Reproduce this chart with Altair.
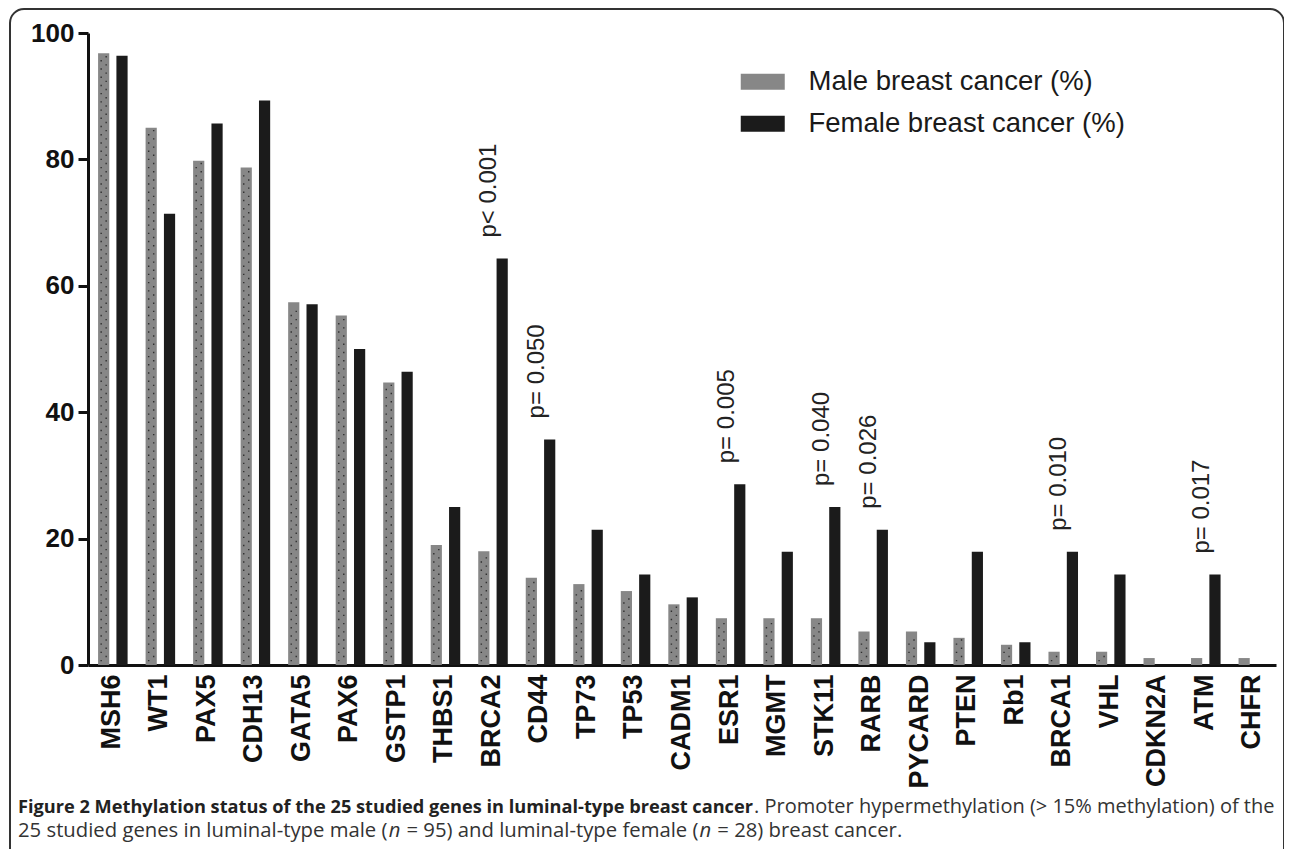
import altair as alt
import pandas as pd

MALE = "Male breast cancer (%)"
FEMALE = "Female breast cancer (%)"

genes = ["MSH6", "WT1", "PAX5", "CDH13", "GATA5", "PAX6", "GSTP1", "THBS1", "BRCA2",
         "CD44", "TP73", "TP53", "CADM1", "ESR1", "MGMT", "STK11", "RARB", "PYCARD",
         "PTEN", "Rb1", "BRCA1", "VHL", "CDKN2A", "ATM", "CHFR"]
male = [96.8, 85.0, 79.8, 78.7, 57.4, 55.3, 44.7, 19.0, 18.0, 13.8, 12.8, 11.7, 9.6,
        7.4, 7.4, 7.4, 5.3, 5.3, 4.3, 3.2, 2.1, 2.1, 1.1, 1.1, 1.1]
female = [96.4, 71.4, 85.7, 89.3, 57.1, 50.0, 46.4, 25.0, 64.3, 35.7, 21.4, 14.3, 10.7,
          28.6, 17.9, 25.0, 21.4, 3.6, 17.9, 3.6, 17.9, 14.3, 0.0, 14.3, 0.0]

p_genes = ["BRCA2", "CD44", "ESR1", "STK11", "RARB", "BRCA1", "ATM"]
p_labels = ["p< 0.001", "p= 0.050", "p= 0.005", "p= 0.040", "p= 0.026", "p= 0.010", "p= 0.017"]

cap1_bold = "Figure 2 Methylation status of the 25 studied genes in luminal-type breast cancer"
cap1_reg = ". Promoter hypermethylation (> 15% methylation) of the"
cap2_segments = ["25 studied genes in luminal-type male (", "n", "= 95) and luminal-type female (",
                 "n", "= 28) breast cancer."]

rows = []
for g, m, f in zip(genes, male, female):
    rows.append({"gene": g, "group": MALE, "value": m})
    rows.append({"gene": g, "group": FEMALE, "value": f})
df = pd.DataFrame(rows)
mdf = pd.DataFrame({"gene": genes, "group": [MALE] * len(genes), "value": male})

fem = dict(zip(genes, female))
pdf = pd.DataFrame({"gene": p_genes, "label": p_labels,
                    "group": [FEMALE] * len(p_genes),
                    "value": [fem[g] for g in p_genes]})

W, H = 1188, 632

x_enc = alt.X("gene:N", sort=genes,
              scale=alt.Scale(paddingInner=0, paddingOuter=0),
              axis=alt.Axis(title=None, labelAngle=-90, labelAlign="right", labelBaseline="middle",
                            labelFont="Liberation Sans", labelFontWeight="bold", labelFontSize=27,
                            labelColor="#111", ticks=False, domainWidth=3, domainColor="#111",
                            labelPadding=9))
xo_enc = alt.XOffset("group:N", sort=[MALE, FEMALE],
                     scale=alt.Scale(domain=[MALE, FEMALE], paddingInner=0.39, paddingOuter=0.49, align=0.56))
y_enc = alt.Y("value:Q", scale=alt.Scale(domain=[0, 100], nice=False),
              axis=alt.Axis(title=None, values=[0, 20, 40, 60, 80, 100], grid=False,
                            domainWidth=3, domainColor="#111", tickWidth=3, tickColor="#111",
                            tickSize=10, labelFont="Liberation Sans", labelFontWeight="bold",
                            labelFontSize=26, labelColor="#111", labelPadding=4))

bars = alt.Chart(df).mark_bar().encode(
    x=x_enc, xOffset=xo_enc, y=y_enc,
    color=alt.Color("group:N", sort=[MALE, FEMALE],
                    scale=alt.Scale(domain=[MALE, FEMALE], range=["#878787", "#1b1b1b"]),
                    legend=alt.Legend(title=None, orient="none", legendX=661, legendY=35,
                                      padding=0,
                                      symbolType="M-2,-0.73L2,-0.73L2,0.73L-2,0.73Z",
                                      symbolSize=484, symbolStrokeWidth=0, symbolOpacity=1,
                                      labelFont="Liberation Sans", labelFontSize=27.5,
                                      labelColor="#1a1a1a", labelOffset=32, rowPadding=13,
                                      labelLimit=500)),
)

# dotted texture on the male bars: each point draws a staggered pair of small dots
dot_pair = "M-3.2,-0.7h1.4v1.4h-1.4Z M1.8,-4.8h1.4v1.4h-1.4Z"
dots = alt.Chart(mdf).transform_calculate(
    d="sequence(0.7, datum.value - 0.9, 1.3)").transform_flatten(["d"]).mark_point(
    shape=dot_pair, size=4, filled=True, color="#262626", opacity=0.9, strokeWidth=0).encode(
    x=alt.X("gene:N", sort=genes), xOffset=alt.XOffset("group:N", sort=[MALE, FEMALE]),
    y="d:Q")

ptext = alt.Chart(pdf).mark_text(angle=270, align="left", baseline="middle", dx=21, dy=-13,
                                 fontSize=24, font="Liberation Sans", color="#222").encode(
    x=alt.X("gene:N", sort=genes), xOffset=alt.XOffset("group:N", sort=[MALE, FEMALE]),
    y="value:Q", text="label:N")

frame = alt.Chart(pd.DataFrame({"a": [0]})).mark_rect(
    fillOpacity=0, stroke="#333", strokeWidth=2, cornerRadius=14).encode(
    x=alt.value(-78), x2=alt.value(1196), y=alt.value(-24), y2=alt.value(840))

FB = 18.2
FR1 = 20.0
FS = 20.3
cap_a = alt.Chart(pd.DataFrame({"t": [cap1_bold]})).mark_text(
    align="left", baseline="alphabetic", font="Open Sans", fontWeight="bold", fontSize=FB,
    color="#222").encode(x=alt.value(-70), y=alt.value(780), text="t:N")
cap_b = alt.Chart(pd.DataFrame({"t": [cap1_reg]})).mark_text(
    align="left", baseline="alphabetic", font="Open Sans", fontSize=FR1,
    color="#333").encode(x=alt.value(666), y=alt.value(780), text="t:N")

seg_x = [-70, -70 + 18.263 * FS, -70 + (18.263 + 0.873) * FS, -70 + 33.574 * FS,
         -70 + (33.574 + 0.873) * FS]
cap_line2 = []
for s, sx in zip(cap2_segments, seg_x):
    cap_line2.append(alt.Chart(pd.DataFrame({"t": [s]})).mark_text(
        align="left", baseline="alphabetic", font="Open Sans", fontSize=FS,
        fontStyle="italic" if s == "n" else "normal",
        color="#333").encode(x=alt.value(sx), y=alt.value(804), text="t:N"))

chart = alt.layer(frame, bars, dots, ptext, cap_a, cap_b, *cap_line2).properties(
    width=W, height=H,
    padding={"left": 80, "top": 25, "right": 8, "bottom": 184},
    autosize=alt.AutoSizeParams(type="none"),
).configure_view(stroke=None)

chart.save("out.html", embed_options={"renderer": "svg", "actions": False})
